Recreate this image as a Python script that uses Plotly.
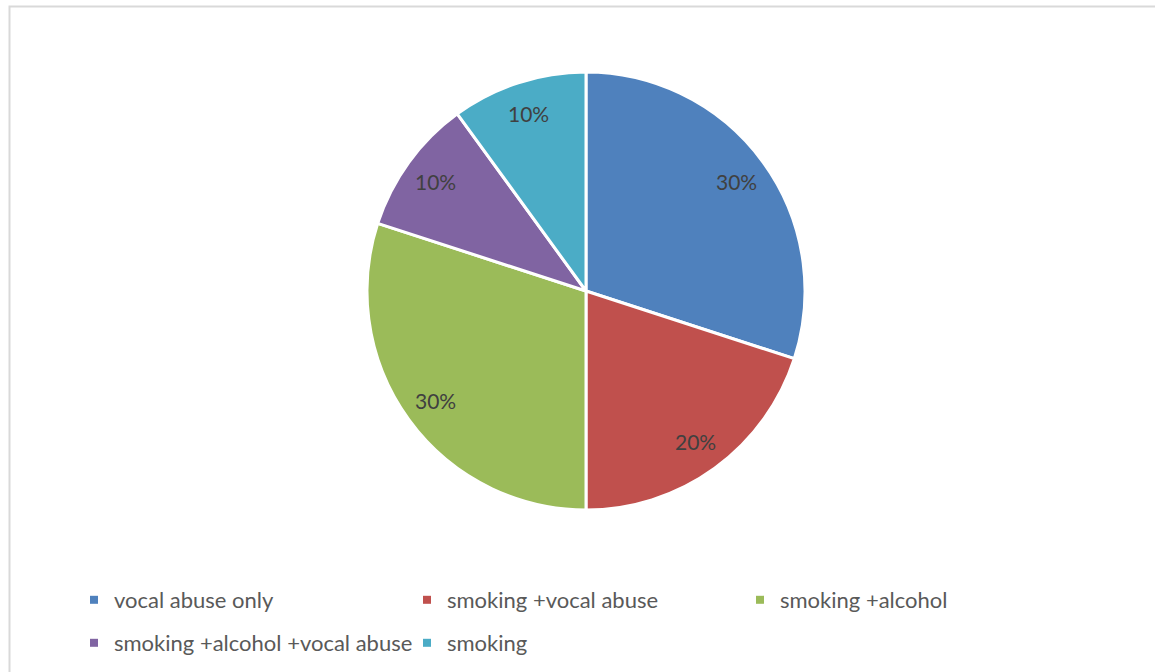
import numpy as np
import plotly.graph_objects as go

categories = ["vocal abuse only", "smoking +vocal abuse", "smoking +alcohol",
              "smoking +alcohol +vocal abuse", "smoking"]
values = [30, 20, 30, 10, 10]
colors = ["#4F81BD", "#C0504D", "#9BBB59", "#8064A2", "#4BACC6"]

W, H = 1155, 672
cx_px, cy_px, R_px = 586, 291, 219
dom_x = [(cx_px - R_px) / W, (cx_px + R_px) / W]
dom_y = [1 - (cy_px + R_px) / H, 1 - (cy_px - R_px) / H]

FONT = "Lato"

fig = go.Figure()
fig.add_trace(go.Pie(
    labels=categories, values=values, sort=False, direction="clockwise",
    rotation=0, marker=dict(colors=colors, line=dict(color="white", width=3)),
    textinfo="none", hoverinfo="label+percent", showlegend=False,
    domain=dict(x=dom_x, y=dom_y),
))

# legend entries (square markers)
for i, (c, col) in enumerate(zip(categories, colors)):
    fig.add_trace(go.Scatter(
        x=[None], y=[None], mode="markers", name=c,
        marker=dict(symbol="square", size=8, color=col),
        legend="legend" if i < 3 else "legend2",
    ))

# percentage labels at 0.85 R along slice mid-angles
tot = float(np.sum(values))
cum = np.cumsum([0] + values[:-1])
for v, s in zip(values, cum):
    mid = (s + v / 2) / tot * 2 * np.pi
    dx = 0.85 * R_px * np.sin(mid)
    dy = 0.85 * R_px * np.cos(mid)
    fig.add_annotation(
        x=(cx_px + dx) / W, y=1 - (cy_px - dy) / H, xref="paper", yref="paper",
        text=f"{v}%", showarrow=False, xanchor="center", yanchor="middle",
        font=dict(family=FONT, size=21, color="#404040"),
    )

leg_common = dict(orientation="h", xanchor="left", yanchor="middle",
                  font=dict(family=FONT, size=22, color="#595959"),
                  entrywidth=288, entrywidthmode="pixels",
                  bgcolor="rgba(0,0,0,0)", itemclick=False)

fig.update_layout(
    width=W, height=H, margin=dict(l=0, r=0, t=0, b=0),
    paper_bgcolor="white", plot_bgcolor="white",
    xaxis=dict(visible=False), yaxis=dict(visible=False),
    legend=dict(x=74 / W, y=1 - 600 / H, **leg_common),
    legend2=dict(x=74 / W, y=1 - 643 / H, **leg_common),
    shapes=[dict(type="rect", xref="paper", yref="paper",
                 x0=9.5 / W, x1=1.02, y0=-0.02, y1=1 - 6.5 / H,
                 line=dict(color="#D9D9D9", width=2), fillcolor="rgba(0,0,0,0)",
                 layer="below")],
)

fig.write_html("out.html")
